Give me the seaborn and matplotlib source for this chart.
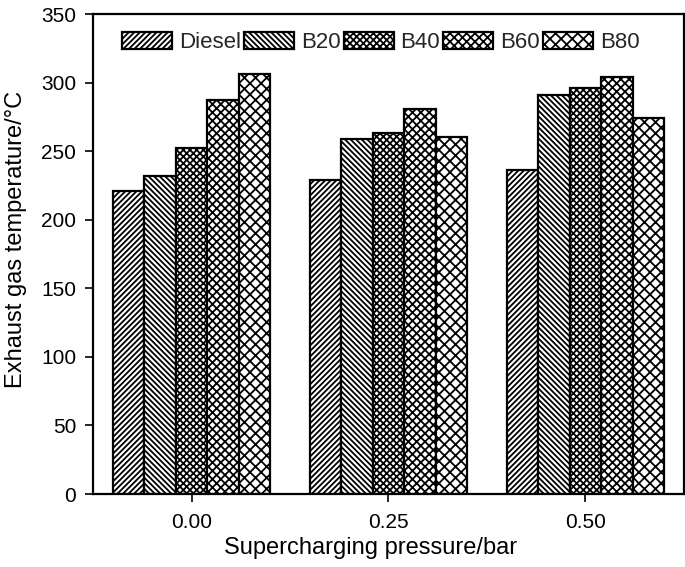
import pandas as pd
import matplotlib
matplotlib.use('Agg')
import matplotlib.pyplot as plt
import seaborn as sns

# supercharging pressure (bar) and exhaust gas temperature per fuel blend
pressures = ['0.00', '0.25', '0.50']
fuels = ['Diesel', 'B20', 'B40', 'B60', 'B80']
diesel = [221, 229, 236]
b20 = [232, 259, 291]
b40 = [252, 263, 296]
b60 = [287, 281, 304]
b80 = [306, 260, 274]
hatches = ['//////', '\\' * 6, 'xxxxx', 'xxxx', 'xxx']

rows = []
for fuel, vals in zip(fuels, [diesel, b20, b40, b60, b80]):
    for p, v in zip(pressures, vals):
        rows.append({'Pressure': p, 'Fuel': fuel, 'EGT': v})
df = pd.DataFrame(rows)

sns.set_style('ticks')
plt.rcParams['font.family'] = ['Liberation Sans', 'DejaVu Sans']
plt.rcParams['hatch.linewidth'] = 1.3

fig = plt.figure(figsize=(6.85, 5.67), dpi=100)
ax = fig.add_axes([0.1358, 0.1287, 0.8627, 0.8466])

sns.barplot(data=df, x='Pressure', y='EGT', hue='Fuel', order=pressures,
            hue_order=fuels, palette=['white'] * 5, edgecolor='black',
            linewidth=1.6, width=0.8, saturation=1, legend=False, ax=ax)

for cont, h in zip(ax.containers, hatches):
    for bar in cont:
        bar.set_hatch(h)
        bar.set_facecolor('white')
        bar.set_edgecolor('black')

ax.legend(handles=list(ax.containers), labels=fuels, loc='upper center',
          ncol=5, frameon=False, fontsize=16, handlelength=2.25,
          handleheight=0.8, handletextpad=0.3, columnspacing=0.15,
          bbox_to_anchor=(0.487, 1.0), borderaxespad=0.4)

ax.set_xlim(-0.5, 2.5)
ax.set_ylim(0, 350)
ax.set_yticks(range(0, 351, 50))
ax.set_xlabel('Supercharging pressure/bar', fontsize=17, color='black',
              labelpad=3)
ax.set_ylabel('Exhaust gas temperature/°C', fontsize=17, color='black',
              labelpad=10)
ax.yaxis.label.set_y(0.53)
ax.xaxis.label.set_x(0.47)
ax.tick_params(labelsize=15, width=1.2, length=6, direction='out',
               colors='black')
ax.tick_params(axis='x', pad=8)
ax.tick_params(axis='y', pad=6)
for s in ax.spines.values():
    s.set_linewidth(1.6)
    s.set_visible(True)
    s.set_color('black')

fig.savefig('out.png', dpi=100)
